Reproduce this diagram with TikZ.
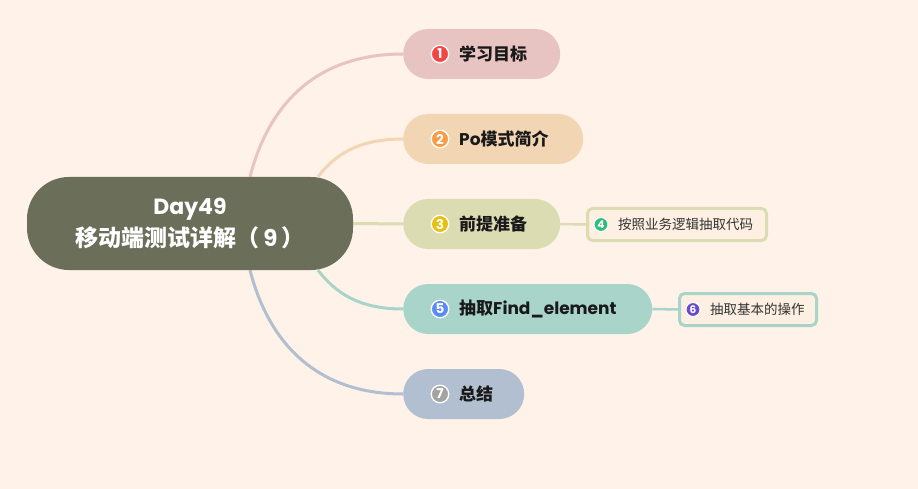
\documentclass[tikz,border=0pt]{standalone}
\usepackage{fontspec}
\setmainfont{Poppins}
\newfontfamily\cjk{Noto Sans CJK SC}
\newcommand{\cn}[1]{{\cjk #1}}
\usetikzlibrary{shapes.misc}
\pgfdeclarelayer{links}
\pgfsetlayers{links,main}

\definecolor{bgcol}{HTML}{FEF2E9}
\definecolor{rootcol}{HTML}{6B6E58}
\definecolor{branchA}{HTML}{E7C3C1}
\definecolor{branchB}{HTML}{F2D6B4}
\definecolor{branchC}{HTML}{DBDCB2}
\definecolor{branchD}{HTML}{A9D4CA}
\definecolor{branchE}{HTML}{B1BFD0}
\definecolor{badgeA}{HTML}{F24646}
\definecolor{badgeB}{HTML}{F99B44}
\definecolor{badgeC}{HTML}{E9C00F}
\definecolor{badgeD}{HTML}{2EBD7D}
\definecolor{badgeE}{HTML}{5C8AF5}
\definecolor{badgeF}{HTML}{6A4BC9}
\definecolor{badgeG}{HTML}{A3A3A3}
\definecolor{leafbg}{HTML}{FDF0E3}
\definecolor{leaftext}{HTML}{333333}

\tikzset{
  pill/.style={rounded rectangle, minimum height=50pt, inner sep=0pt},
  badge/.style={circle, fill=#1, draw=white, line width=1.3pt,
                minimum size=17.5pt, inner sep=0pt, text=white,
                font=\fontsize{13.5}{13.5}\selectfont\bfseries},
  smallbadge/.style={badge=#1, minimum size=14pt, line width=1pt,
                     font=\fontsize{10.5}{10.5}\selectfont\bfseries},
  branchlabel/.style={anchor=west, inner sep=0pt, text=black!90,
                      font=\fontsize{17}{20}\selectfont\bfseries},
  leaf/.style={draw=#1, line width=3pt, rounded corners=5pt, fill=leafbg,
               minimum height=32pt, inner sep=0pt},
  leaflabel/.style={anchor=west, inner sep=0pt, text=leaftext,
                    font=\fontsize{13.5}{16}\selectfont},
  link/.style={draw=#1, line width=3pt},
}

\begin{document}
\begin{tikzpicture}[
  x=1pt,
  y=-1pt,
]
\useasboundingbox (0,0) rectangle (918,489);

\node [rectangle,
       rounded corners=42pt,
       fill=rootcol,
       minimum width=326pt,
       minimum height=93pt,
       inner sep=0pt,
       text=white,
       align=center,
       font=\fontsize{22}{32}\selectfont\bfseries] (root) at (190,223.5)
      {Day49\\\fontsize{23}{32}\selectfont\cn{移动端测试详解（}\,9\,\cn{）}};

\foreach \i/\y/\w/\c/\b/\t in
                  {1/54/157/branchA/badgeA/{\cn{学习目标}},
                   2/139/180/branchB/badgeB/{Po\cn{模式简介}},
                   3/224/157/branchC/badgeC/{\cn{前提准备}},
                   5/309/249/branchD/badgeE/{\cn{抽取}Find\_element},
                   7/394/121/branchE/badgeG/{\cn{总结}}}
  {
   \node [pill, fill=\c, minimum width=\w pt, anchor=west] (b-\i) at (403,\y) {};
   \node [badge=\b] (n-\i) at ([xshift=37pt]b-\i.west) {\i};
   \node [branchlabel] (t-\i) at ([xshift=56pt]b-\i.west) {\t};
  }

\foreach \i/\x/\y/\w/\c/\b/\t in
                  {4/677/224.5/179/branchC/badgeD/按照业务逻辑抽取代码,
                   6/748/309.5/137/branchD/badgeF/抽取基本的操作}
  {
   \node [leaf=\c, minimum width=\w pt] (s-\i) at (\x,\y) {};
   \node [smallbadge=\b] (n-\i) at ([xshift=15pt]s-\i.west) {\i};
   \node [leaflabel] (t-\i) at ([xshift=32pt]s-\i.west) {\cn{\t}};
  }

\begin{pgfonlayer}{links}
  \fill [bgcol] (0,0) rectangle (918,489);
  \draw [link=branchA] ([xshift=60pt]root.north) .. controls +(20,-77) and +(-83,0) .. (b-1.west);
  \draw [link=branchB] ([xshift=128pt]root.north) .. controls +(17,-22) and +(-45,0) .. (b-2.west);
  \draw [link=branchC] (root.east) -- (b-3.west);
  \draw [link=branchD] ([xshift=128pt]root.south) .. controls +(17,22) and +(-45,0) .. (b-5.west);
  \draw [link=branchE] ([xshift=60pt]root.south) .. controls +(20,77) and +(-83,0) .. (b-7.west);
  \draw [link=branchC, line width=2.5pt] (b-3.east) -- (s-4.west);
  \draw [link=branchD, line width=2.5pt] (b-5.east) -- (s-6.west);
\end{pgfonlayer}

\end{tikzpicture}
\end{document}
